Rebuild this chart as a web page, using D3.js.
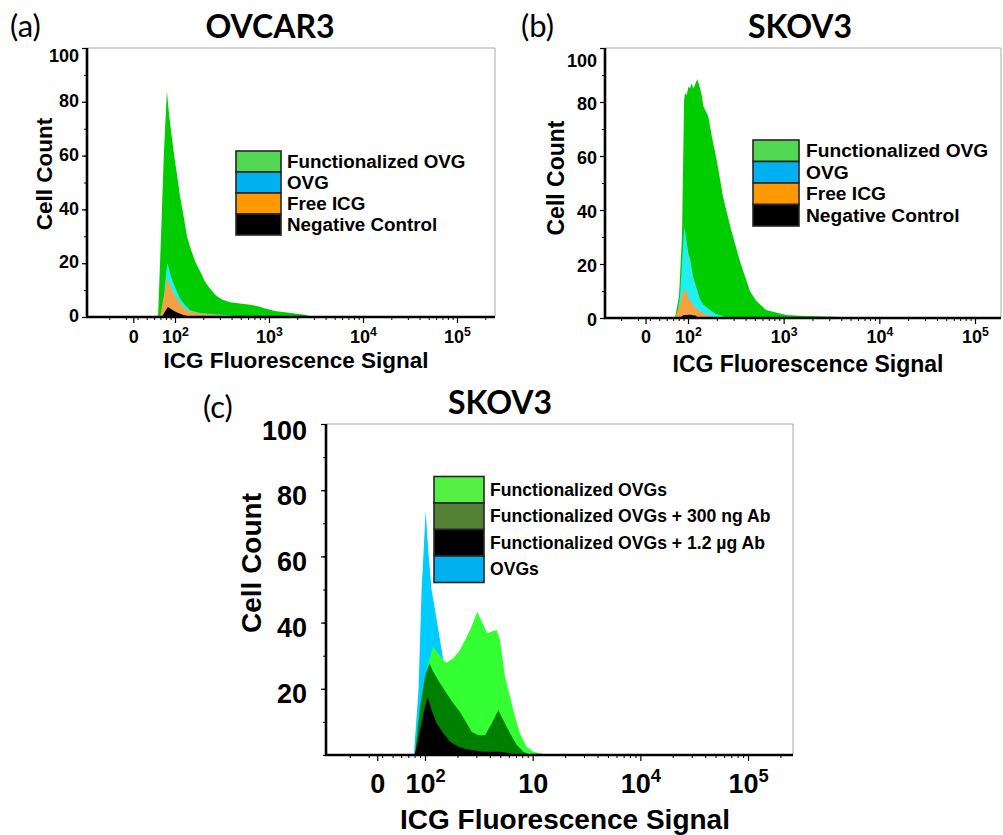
<!DOCTYPE html>
<html><head><meta charset="utf-8">
<script src="https://cdn.jsdelivr.net/npm/d3@7"></script>
<style>body{margin:0;background:#fff}</style>
</head><body>
<svg id="chart" width="1003" height="835"></svg>
<script>
// ---------- data ----------
const yTicksMajorAB = [0, 20, 40, 60, 80, 100];
const yTicksMajorC = [20, 40, 60, 80, 100];
const yTicksMinor = [0, 10, 20, 30, 40, 50, 60, 70, 80, 90, 100];
// 36 marks where the logicle "0" sits on the display axis
const xTickValues = [36, 1e2, 1e3, 1e4, 1e5];
const xTickLabelsAB = [["0", ""], ["10", "2"], ["10", "3"], ["10", "4"], ["10", "5"]];
const xTickLabelsC = [["0", ""], ["10", "2"], ["10", ""], ["10", "4"], ["10", "5"]];

const legendAB = ["Functionalized OVG", "OVG", "Free ICG", "Negative Control"];
const legendC = ["Functionalized OVGs", "Functionalized OVGs + 300 ng Ab", "Functionalized OVGs + 1.2 \u00b5g Ab", "OVGs"];

// (a) OVCAR3  [fluorescence, cell count]
const ovcarFunc = [[66,0],[71,30],[76,60],[82,84],[86,76],[91,69],[98,60],[105,53],[113,45],[122,38.6],[134,30],[148,25],[167,20],[185,17],[209,13],[236,10.5],[273,8],[316,6.5],[385,5.5],[491,5],[628,4.6],[764,4],[906,3.2],[1158,2.2],[1800,1.4],[2415,0.8],[2728,0.3],[2870,0]];
const ovcarOVG = [[72.7,0],[76.4,8],[80.2,16],[83.2,20],[86.3,18],[90.7,15],[97.6,12],[105,9.5],[113,7],[127.7,4.5],[144.5,2.5],[184.5,1.5],[266,1],[404,0.6],[446,0]];
const ovcarFree = [[69.3,0],[74.5,6],[79.2,11],[83.2,14.7],[86.3,13],[90.7,11],[97.6,8.5],[105,7],[113,5],[127.7,3],[144.5,2],[184.5,1.3],[254,0.9],[324,0.4],[348,0]];
const ovcarNeg = [[72.7,0],[78.3,2],[84.2,3.7],[90.7,3],[100,2],[113,1.2],[127.7,0.6],[144.5,0]];

// (b) SKOV3
const skovFunc = [[73,0],[80.5,8],[86.5,30],[91,80.7],[93,83.2],[97,82.6],[101,85.7],[105,85],[109,86.9],[114,85],[118,86.3],[125,88.4],[131,86.3],[139,82.6],[145,78.3],[163,74.6],[178,67],[201,58],[232,45],[281,33],[349,21],[444,10],[513,6.5],[653,3],[1060,1.1],[1480,0.8],[3500,0.5],[3870,0]];
const skovOVG = [[76.2,0],[82.5,8],[86.5,20],[91.5,33.8],[95.3,30],[100.7,24],[104.9,22],[113.6,15],[123.3,11],[133.4,7],[144.5,5],[170,3],[196,1.5],[232,0.7],[255,0]];
const skovFree = [[73.1,0],[80.5,4],[86.5,8],[91.5,11],[97.6,9],[104.9,6.5],[118.3,4],[133.4,2.5],[150.6,1.5],[182.4,0.5],[196,0]];
const skovNeg = [[82.5,0],[88.7,1],[104.9,1.2],[121.2,0.8],[127,0]];

// (c) SKOV3 antibody blocking
const blkOVG = [[78,0],[79,0.5],[87,19.6],[93,50],[101.5,73.8],[107,62],[115,50],[124,43.8],[138,34.7],[148,28.7],[160,24],[180,18],[210,12],[260,6],[320,2],[400,0]];
const blkFunc = [[80,0],[81,0.5],[90,9.6],[100,19.6],[107,27.7],[119,32.7],[133,30.7],[148,28.7],[159,27.9],[183,29.2],[211,31.7],[244,35.7],[271,38.8],[306,43.3],[337,40.3],[379,36.8],[417,37.3],[463,37.8],[498,34.7],[553,23.7],[616,17.6],[686,11.6],[763,6.6],[878,2.5],[1012,1],[1253,0.3],[1300,0]];
const blk300 = [[80,0],[81,0.5],[90,14.6],[100,23.7],[110,27.7],[119,25.2],[138,21.7],[159,18.6],[183,15.6],[211,13.1],[244,9.6],[271,7],[312,6],[361,6],[417,9.6],[480,13.6],[533,10.6],[616,6.6],[711,3],[819,1],[909,0.3],[930,0]];
const blk1200 = [[80,0],[81,0.5],[90,7.5],[100,14.6],[106,17.6],[115,13.6],[128,9.6],[148,6.6],[171,4],[204,2.5],[244,1.7],[348,1],[498,1],[616,0.5],[686,0]];

// ---------- drawing ----------
const svg = d3.select("#chart");
const TICKFONT = "'Liberation Sans', Arial, sans-serif";
const TITLEFONT = "Lato, 'Open Sans', sans-serif";

function drawPanel(cfg) {
  const g = svg.append("g");
  const x = d3.scaleLog().domain([1e2, 1e5]).range([cfg.x100, cfg.x1e5]);
  const y = d3.scaleLinear().domain([0, 100]).range([cfg.bottom, cfg.top]);

  // gray top/right frame
  g.append("path")
    .attr("d", `M${cfg.left},${cfg.top}H${cfg.right}V${cfg.bottom}`)
    .attr("fill", "none").attr("stroke", "#a8a8a8").attr("stroke-width", 1);

  // histograms
  const area = d3.area().x(d => x(d[0])).y0(y(0)).y1(d => y(d[1]));
  cfg.series.forEach(s => {
    g.append("path").datum(s.data).attr("d", area).attr("fill", s.color);
  });

  // y axis ticks
  const yMinor = d3.axisLeft(y).tickValues(yTicksMinor).tickSize(3).tickFormat("");
  g.append("g").attr("transform", `translate(${cfg.left},0)`).call(yMinor)
    .call(a => a.select(".domain").remove())
    .selectAll("line").attr("stroke", "#000").attr("stroke-width", 1);
  const yMajor = d3.axisLeft(y).tickValues(cfg.yTicks).tickSize(5).tickPadding(cfg.yPad);
  const ya = g.append("g").attr("transform", `translate(${cfg.left},0)`).call(yMajor);
  ya.select(".domain").remove();
  ya.selectAll("line").attr("stroke", "#000").attr("stroke-width", 1.2);
  ya.selectAll("text")
    .attr("font-family", TICKFONT).attr("font-weight", "bold")
    .attr("font-size", cfg.tickFont).attr("fill", "#000")
    .attr("dy", d => (d === 100 ? cfg.topShift : cfg.yShift) + "px")
    .attr("dominant-baseline", "middle");

  // x axis ticks
  const lo = x.invert(cfg.left), hi = x.invert(cfg.right);
  const minorVals = [];
  [1, 10, 100, 1000, 10000, 100000].forEach(dec => {
    for (let k = 1; k <= 9; k++) {
      const v = dec * k;
      if (v > lo && v < hi && !xTickValues.includes(v)) minorVals.push(v);
    }
  });
  const xMinor = d3.axisBottom(x).tickValues(minorVals).tickSize(3).tickFormat("");
  g.append("g").attr("transform", `translate(0,${cfg.bottom})`).call(xMinor)
    .call(a => a.select(".domain").remove())
    .selectAll("line").attr("stroke", "#000").attr("stroke-width", 1);
  const xMajor = d3.axisBottom(x).tickValues(xTickValues).tickSize(6).tickFormat("");
  const xa = g.append("g").attr("transform", `translate(0,${cfg.bottom})`).call(xMajor);
  xa.select(".domain").remove();
  xa.selectAll("line").attr("stroke", "#000").attr("stroke-width", 1.2);
  xa.selectAll(".tick").each(function (d, i) {
    const lab = cfg.xLabels[i];
    const t = d3.select(this).append("text")
      .attr("y", cfg.xLabDy).attr("text-anchor", "middle")
      .attr("font-family", TICKFONT).attr("font-weight", "bold")
      .attr("font-size", cfg.tickFont).attr("fill", "#000");
    t.append("tspan").text(lab[0]);
    if (lab[1]) t.append("tspan").attr("font-size", cfg.tickFont * 0.68)
      .attr("dy", -cfg.tickFont * 0.4).text(lab[1]);
  });

  // thick axis lines
  g.append("path")
    .attr("d", `M${cfg.left},${cfg.top}V${cfg.bottom}H${cfg.right}`)
    .attr("fill", "none").attr("stroke", "#000").attr("stroke-width", 2.6);

  // axis titles
  g.append("text").attr("x", cfg.xTitle[0]).attr("y", cfg.xTitle[1])
    .attr("text-anchor", "middle").attr("font-family", TICKFONT).attr("font-weight", "bold")
    .attr("font-size", cfg.titleFont).text("ICG Fluorescence Signal");
  g.append("text")
    .attr("transform", `translate(${cfg.yTitle[0]},${cfg.yTitle[1]}) rotate(-90)`)
    .attr("text-anchor", "middle").attr("dominant-baseline", "middle")
    .attr("font-family", TICKFONT).attr("font-weight", "bold")
    .attr("font-size", cfg.titleFont).text("Cell Count");

  // panel title & letter
  g.append("text").attr("x", cfg.title[0]).attr("y", cfg.title[1])
    .attr("text-anchor", "middle").attr("font-family", TITLEFONT).attr("font-weight", "bold")
    .attr("font-size", 32).text(cfg.titleText);
  g.append("text").attr("x", cfg.letter[0]).attr("y", cfg.letter[1])
    .attr("font-family", TITLEFONT).attr("font-size", 31).text(cfg.letterText);

  // legend
  const L = cfg.legend;
  const lg = g.append("g");
  L.items.forEach((name, i) => {
    lg.append("rect").attr("x", L.x).attr("y", L.y + i * L.h)
      .attr("width", L.w).attr("height", L.h)
      .attr("fill", L.colors[i]).attr("stroke", "#262626").attr("stroke-width", 1.6);
    lg.append("text").attr("x", L.x + L.w + L.gap).attr("y", L.y + i * L.h + L.h / 2)
      .attr("dominant-baseline", "central")
      .attr("font-family", TICKFONT).attr("font-weight", "bold")
      .attr("font-size", L.font).attr("fill", "#000").text(name);
  });
}

drawPanel({
  left: 87, right: 495, top: 48, bottom: 317, x100: 175, x1e5: 457,
  yTicks: yTicksMajorAB, yPad: 3, yShift: 0, topShift: 9, tickFont: 18, xLabDy: 26, xLabels: xTickLabelsAB,
  titleFont: 22.5, xTitle: [296, 368], yTitle: [46, 174],
  title: [270, 38], titleText: "OVCAR3", letter: [10, 37], letterText: "(a)",
  series: [
    { data: ovcarFunc, color: "#00cc00" },
    { data: ovcarOVG, color: "#22f0f0" },
    { data: ovcarFree, color: "#f5a043" },
    { data: ovcarNeg, color: "#000000" }
  ],
  legend: { x: 236, y: 151, w: 45, h: 21, gap: 6, font: 18.8, items: legendAB,
    colors: ["#52d852", "#00b0f0", "#ff9900", "#000000"] }
});

drawPanel({
  left: 605, right: 1001, top: 48, bottom: 318, x100: 688, x1e5: 975,
  yTicks: yTicksMajorAB, yPad: 3, yShift: 3, topShift: 14, tickFont: 18, xLabDy: 25, xLabels: xTickLabelsAB,
  titleFont: 23, xTitle: [808, 372], yTitle: [558, 178],
  title: [800, 38], titleText: "SKOV3", letter: [521, 37], letterText: "(b)",
  series: [
    { data: skovFunc, color: "#00cc00" },
    { data: skovOVG, color: "#22f0f0" },
    { data: skovFree, color: "#f5a043" },
    { data: skovNeg, color: "#000000" }
  ],
  legend: { x: 753, y: 140, w: 46, h: 21.5, gap: 7, font: 19.2, items: legendAB,
    colors: ["#52d852", "#00b0f0", "#ff9900", "#000000"] }
});

drawPanel({
  left: 326, right: 793, top: 424, bottom: 755, x100: 425, x1e5: 748,
  yTicks: yTicksMajorC, yPad: 14, yShift: 7, topShift: 8, tickFont: 27, xLabDy: 38, xLabels: xTickLabelsC,
  titleFont: 28, xTitle: [565, 829], yTitle: [254, 563],
  title: [500, 414], titleText: "SKOV3", letter: [203, 418], letterText: "(c)",
  series: [
    { data: blkOVG, color: "#00ccff" },
    { data: blkFunc, color: "#33ff33" },
    { data: blk300, color: "#008000" },
    { data: blk1200, color: "#000000" }
  ],
  legend: { x: 434, y: 476.5, w: 50, h: 26.5, gap: 6, font: 17.6, items: legendC,
    colors: ["#55f044", "#548235", "#000000", "#00b0f0"] }
});
</script>
</body></html>
